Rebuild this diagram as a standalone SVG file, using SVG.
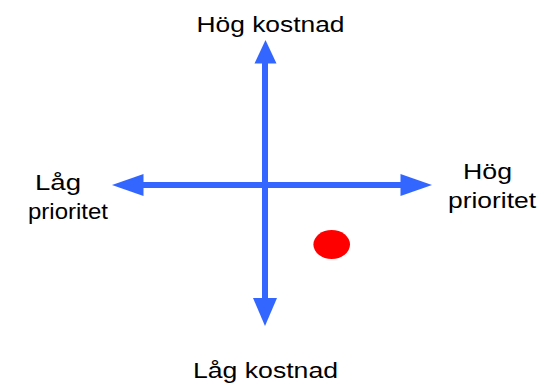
<svg xmlns="http://www.w3.org/2000/svg" width="552" height="384" viewBox="0 0 552 384">
  <style>
    .lbl { font-family: "Liberation Sans", Arial, sans-serif; font-size: 22px; fill: #000; }
    .axis { stroke: #3366FF; stroke-width: 6; fill: none; }
    .head { fill: #3366FF; }
  </style>
  <rect width="552" height="384" fill="#fff"/>

  <!-- axes with arrowheads -->
  <g id="connectors">
    <line class="axis" x1="140" y1="185" x2="404" y2="185"/>
    <line class="axis" x1="265" y1="60" x2="265" y2="300"/>
    <polygon class="head" points="265.5,40 254.5,63.5 276.5,63.5"/>
    <polygon class="head" points="265,326 253,298 277,298"/>
    <polygon class="head" points="112,185 143.5,174 143.5,196"/>
    <polygon class="head" points="432,185 400.5,174 400.5,196"/>
  </g>

  <g id="top-label">
    <text class="lbl" x="196.5" y="32" textLength="148" lengthAdjust="spacingAndGlyphs">Hög kostnad</text>
  </g>
  <g id="bottom-label">
    <text class="lbl" x="193" y="377.5" textLength="145" lengthAdjust="spacingAndGlyphs">Låg kostnad</text>
  </g>
  <g id="left-label">
    <text class="lbl" x="35" y="190" textLength="46" lengthAdjust="spacingAndGlyphs">Låg</text>
    <text class="lbl" x="28" y="219" textLength="80" lengthAdjust="spacingAndGlyphs">prioritet</text>
  </g>
  <g id="right-label">
    <text class="lbl" x="463" y="178.5" textLength="49" lengthAdjust="spacingAndGlyphs">Hög</text>
    <text class="lbl" x="448" y="207.5" textLength="88" lengthAdjust="spacingAndGlyphs">prioritet</text>
  </g>

  <g id="point">
    <ellipse cx="331.7" cy="244.5" rx="18.3" ry="14.5" fill="#FF0000"/>
  </g>
</svg>
